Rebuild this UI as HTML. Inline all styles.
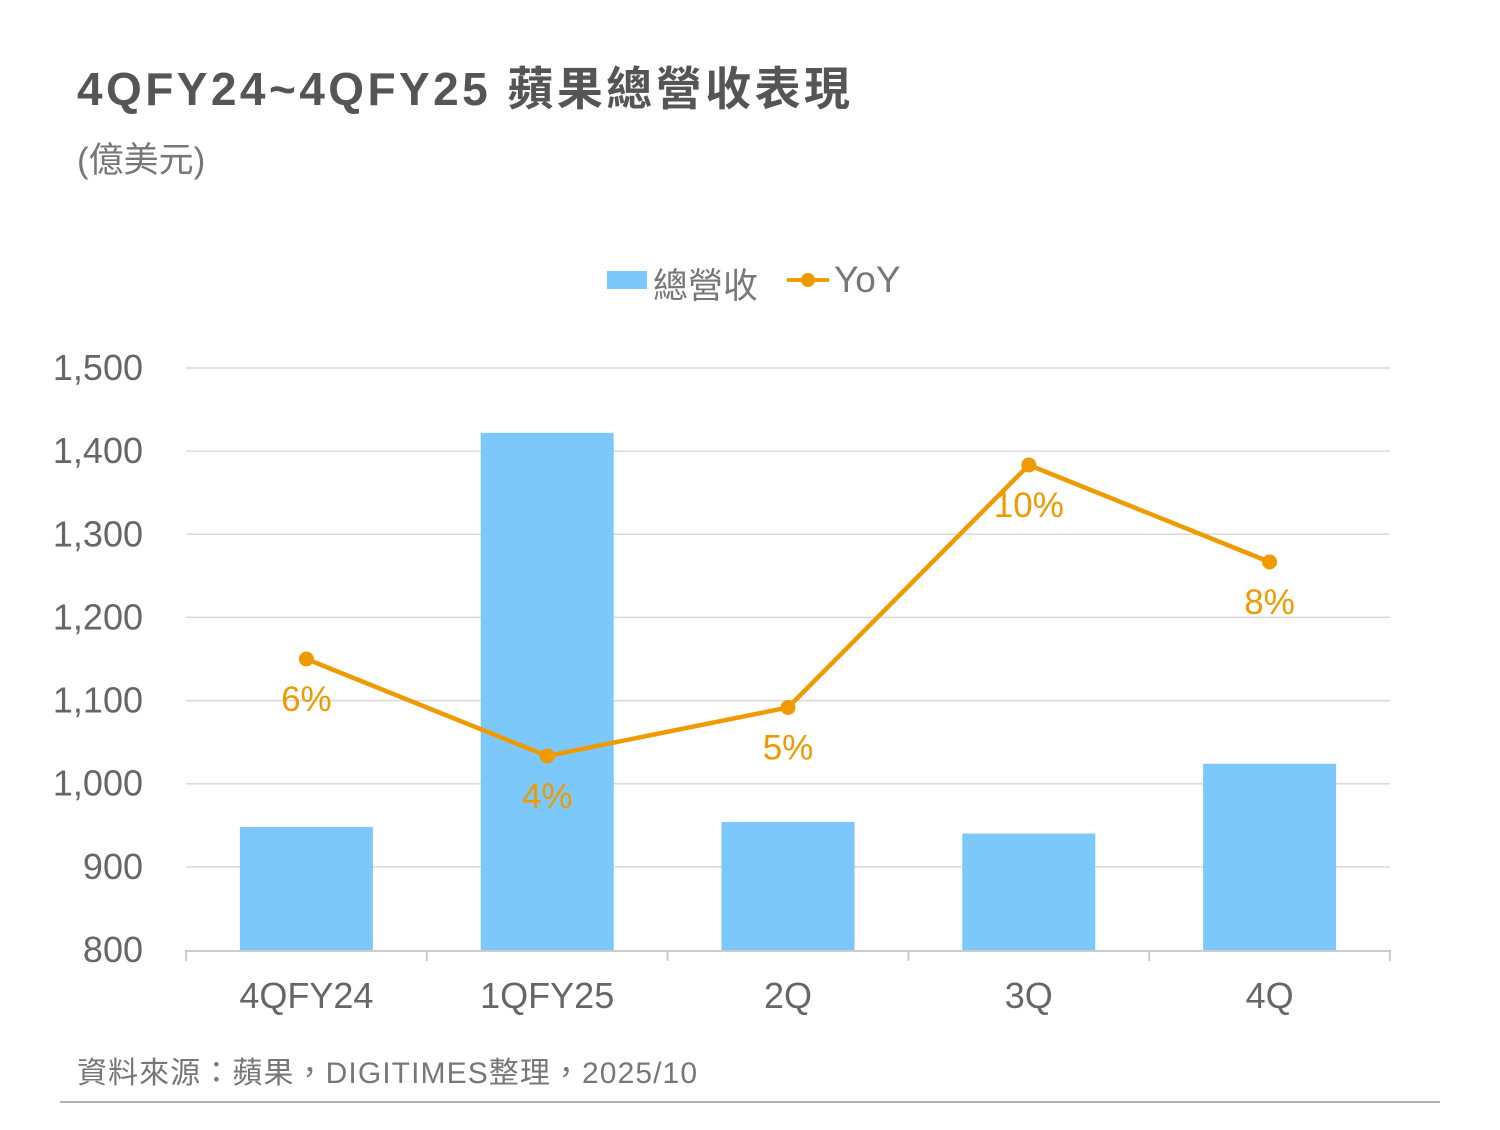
<!DOCTYPE html>
<html><head><meta charset="utf-8"><style>
body{margin:0;background:#fff;width:1500px;height:1125px;overflow:hidden}
svg text{font-family:"Liberation Sans","Noto Sans CJK TC",sans-serif}
</style></head><body>
<svg width="1500" height="1125" id="c">
<text x="77" y="105" font-size="46" font-weight="bold" fill="#555" textLength="773" lengthAdjust="spacing">4QFY24~4QFY25 蘋果總營收表現</text>
<text x="77" y="172" font-size="35" fill="#777">(億美元)</text>
<g>
<rect x="607" y="271" width="40" height="18" fill="#7DC8FA"/>
<text x="653" y="298" font-size="35" fill="#777">總營收</text>
<line x1="787" y1="280" x2="829" y2="280" stroke="#EE9A00" stroke-width="4"/>
<circle cx="808" cy="280" r="7" fill="#EE9A00"/>
<text x="834" y="292" font-size="37" fill="#777">YoY</text>
</g>
<g id="plot"></g>
<text x="77" y="1083" font-size="30" fill="#777" textLength="620" lengthAdjust="spacing">資料來源：蘋果，DIGITIMES整理，2025/10</text>
<line x1="60" y1="1102" x2="1440" y2="1102" stroke="#999" stroke-width="1.5"/>
</svg>
<script>
const categories=["4QFY24","1QFY25","2Q","3Q","4Q"];
const revenue=[948,1422,954,940,1024];
const yoy=[6,4,5,10,8];
const yoyLabels=["6%","4%","5%","10%","8%"];
const yTicks=[800,900,1000,1100,1200,1300,1400,1500];
const X0=186,X1=1390,Y0=950,Y1=368;
const bw=(X1-X0)/categories.length;
const y=v=>Y0-(v-800)/(1500-800)*(Y0-Y1);
const y2=v=>Y0-v/12*(Y0-Y1);
const xc=i=>X0+bw*(i+0.5);
const g=document.getElementById('plot');
const NS="http://www.w3.org/2000/svg";
function mk(t,a,p){const e=document.createElementNS(NS,t);for(const k in a)e.setAttribute(k,a[k]);(p||g).appendChild(e);return e;}
yTicks.forEach(t=>{
 if(t>800){const l=mk('line',{x1:X0,x2:X1,y1:y(t),y2:y(t),stroke:'#d9d9d9','stroke-width':1.5});
 
 }
 const tx=mk('text',{x:143,y:y(t)+12,'font-size':36,fill:'#666','text-anchor':'end'});tx.textContent=t.toLocaleString('en-US');
 
 
});
categories.forEach((c,i)=>{
 const b=mk('rect',{x:xc(i)-66.5,y:y(revenue[i]),width:133,height:Y0-y(revenue[i]),fill:'#7DC8FA'});
 
 
 const t=mk('text',{x:xc(i),y:1008,'font-size':36,fill:'#666','text-anchor':'middle'});t.textContent=c;
 
 
});
const ax=mk('line',{x1:X0,x2:X1,y1:Y0+1,y2:Y0+1,stroke:'#ccc','stroke-width':2});


for(let i=0;i<=categories.length;i++){const tk=mk('line',{x1:X0+bw*i,x2:X0+bw*i,y1:Y0,y2:Y0+11,stroke:'#ccc','stroke-width':2});
 
 }
const pl=mk('polyline',{points:yoy.map((v,i)=>xc(i)+','+y2(v)).join(' '),fill:'none',stroke:'#EE9A00','stroke-width':4.5,'stroke-linejoin':'round'});


yoy.forEach((v,i)=>{
 const c=mk('circle',{cx:xc(i),cy:y2(v),r:7.5,fill:'#EE9A00'});
 
 
 const t=mk('text',{x:xc(i),y:y2(v)+52,'font-size':35,fill:'#EE9A00','text-anchor':'middle'});t.textContent=yoyLabels[i];
 
 
});
</script>
</body></html>
